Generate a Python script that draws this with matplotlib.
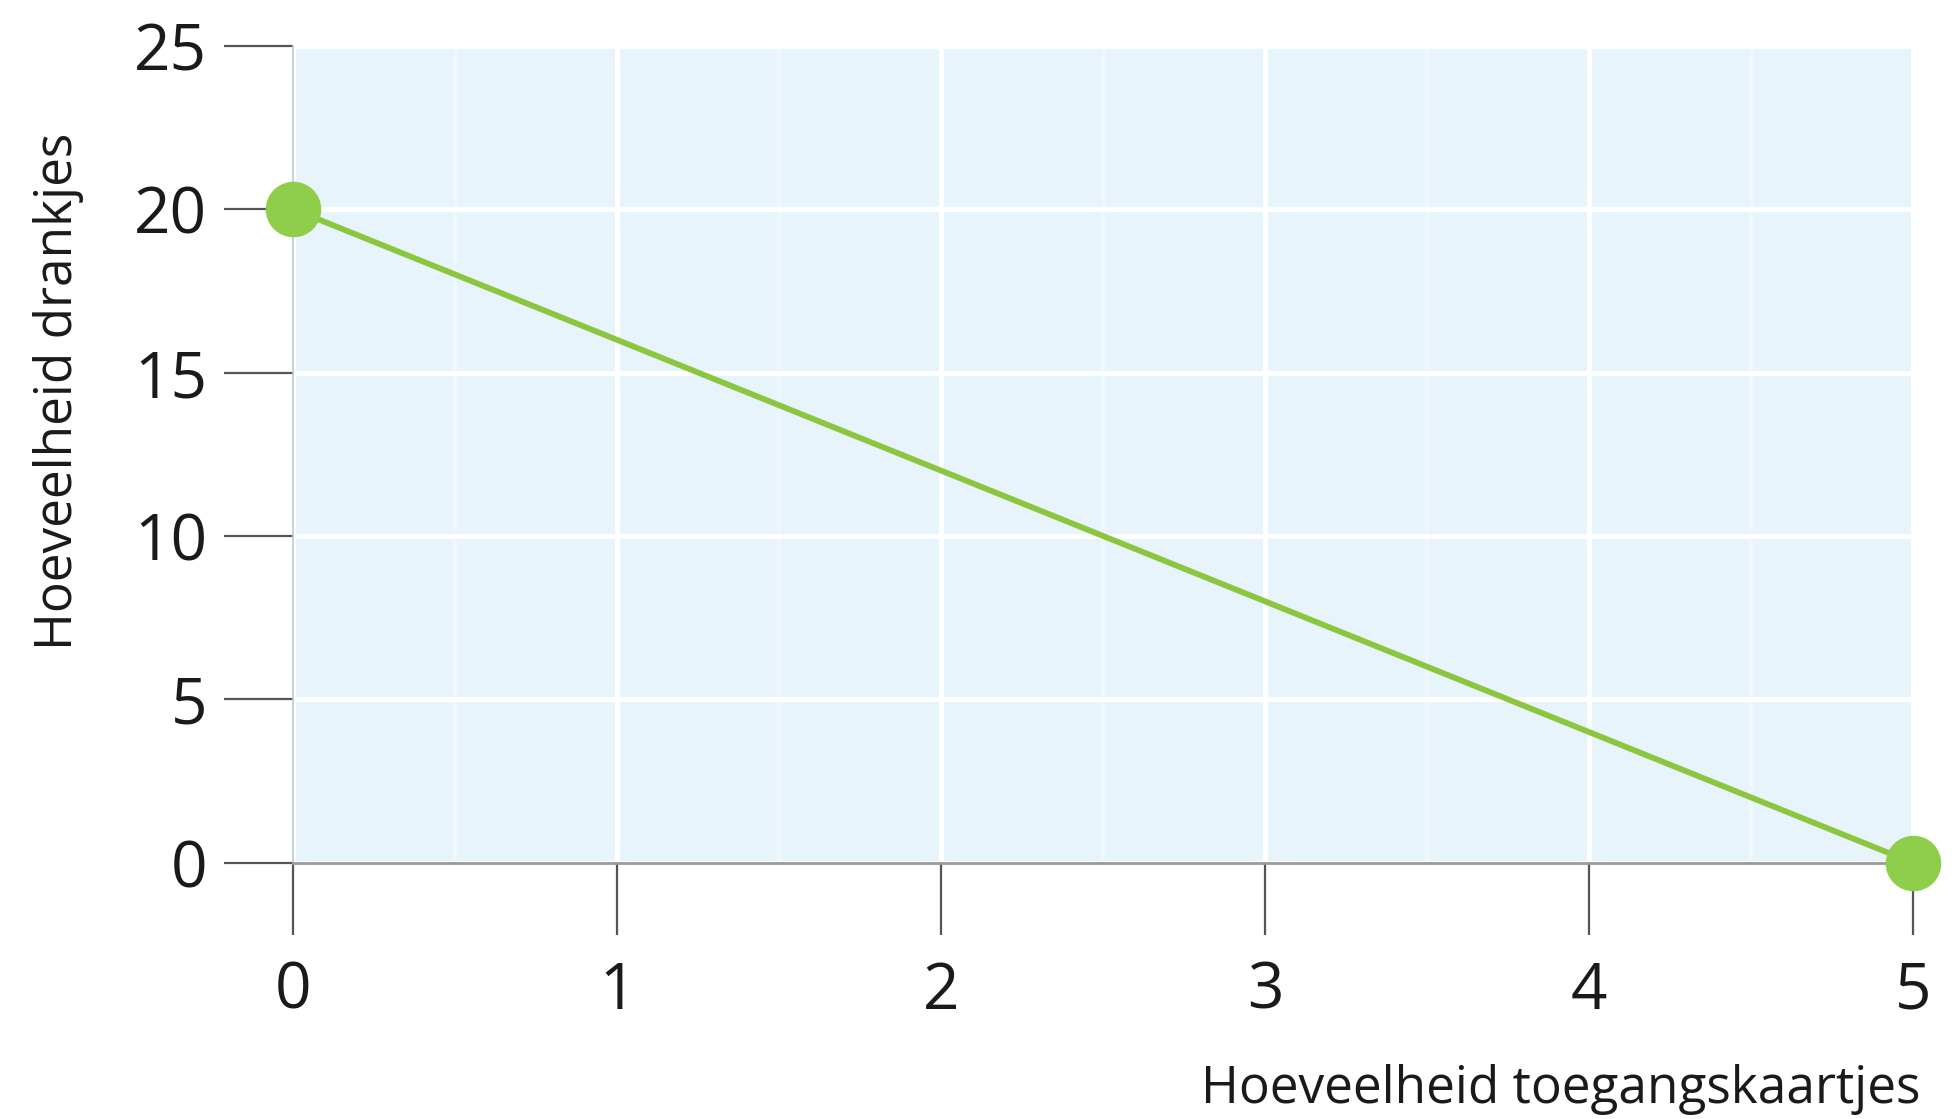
import matplotlib as mpl
mpl.use("agg")
import matplotlib.pyplot as plt

# data
tickets = [0, 5]
drinks = [20, 0]
x_ticks = [0, 1, 2, 3, 4, 5]
y_ticks = [0, 5, 10, 15, 20, 25]

plt.rcParams['font.family'] = ['Open Sans', 'DejaVu Sans']

fig = plt.figure(figsize=(19.56, 11.19), dpi=100)
ax = fig.add_axes([0.150, 0.229, 0.828, 0.730])
ax.set_facecolor('#e8f4fc')

ax.set_xlim(0, 5)
ax.set_ylim(0, 25)
ax.set_xticks(x_ticks)
ax.set_yticks(y_ticks)
ax.set_xticks([0.5, 1.5, 2.5, 3.5, 4.5], minor=True)

# white grid
ax.grid(True, which='major', color='white', linewidth=3.5, zorder=1)
ax.grid(True, which='minor', axis='x', color='#eef7fd', linewidth=3, zorder=1)
ax.tick_params(which='minor', length=0)
ax.set_axisbelow(True)

ax.tick_params(axis='y', which='major', length=50, width=1.6, color='#555555',
               labelsize=46, labelcolor='#1a1a1a', pad=12)
ax.tick_params(axis='x', which='major', length=52, width=1.6, color='#555555',
               labelsize=46, labelcolor='#1a1a1a', pad=18)

for s in ['top', 'right']:
    ax.spines[s].set_visible(False)
ax.spines['left'].set_color('#b9c9d6')
ax.spines['left'].set_linewidth(1.2)
ax.spines['bottom'].set_color('#9a9a9a')
ax.spines['bottom'].set_linewidth(2)

ax.plot(tickets, drinks, color='#8cc63f', linewidth=4.2, zorder=3,
        marker='o', markersize=40, markerfacecolor='#8fce4a',
        markeredgewidth=0, clip_on=False)

fig.text(0.030, 0.650, 'Hoeveelheid drankjes', rotation=90, ha='center', va='center',
         fontsize=37, color='#1a1a1a')
fig.text(0.982, 0.004, 'Hoeveelheid toegangskaartjes', ha='right', va='bottom',
         fontsize=37, color='#1a1a1a')

plt.savefig('out.png', dpi=100)
